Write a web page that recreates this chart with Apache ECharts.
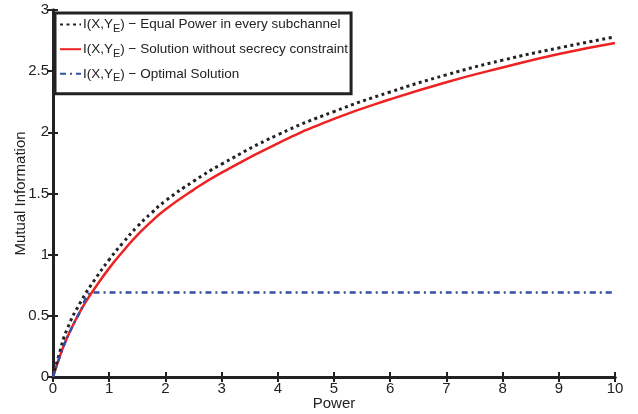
<!DOCTYPE html>
<html>
<head>
<meta charset="utf-8">
<script src="https://cdn.jsdelivr.net/npm/echarts@6/dist/echarts.min.js"></script>
<style>
  html, body { margin: 0; padding: 0; background: #fff; }
  #chart { width: 638px; height: 414px; }
</style>
</head>
<body>
<div id="chart"></div>
<script>
// power values (x)
const powers = [0, 0.1, 0.25, 0.5, 0.75, 1, 1.25, 1.5, 1.75, 2, 2.5, 3, 4, 5, 6, 7, 8, 9, 10];
// I(X,Y_E) equal power in every subchannel
const equalPower = [0, 0.17, 0.39, 0.62, 0.8, 0.96, 1.1, 1.23, 1.34, 1.44, 1.6, 1.74, 1.98, 2.17, 2.33, 2.47, 2.59, 2.69, 2.78];
// I(X,Y_E) solution without secrecy constraint
const noSecrecy = [0, 0.14, 0.32, 0.55, 0.73, 0.89, 1.03, 1.16, 1.27, 1.37, 1.53, 1.67, 1.91, 2.11, 2.27, 2.41, 2.53, 2.64, 2.73];
// I(X,Y_E) optimal solution: follows the red curve, then flat
const optX = [0, 0.1, 0.25, 0.5, 0.69, 10];
const optY = [0, 0.14, 0.32, 0.55, 0.69, 0.69];

const names = [
  'I(X,Y{s|E}) − Equal Power in every subchannel',
  'I(X,Y{s|E}) − Solution without secrecy constraint',
  'I(X,Y{s|E}) − Optimal Solution'
];

const font = '"Liberation Sans", Arial, sans-serif';
const chart = echarts.init(document.getElementById('chart'));

const pairs = (xs, ys) => xs.map((x, i) => [x, ys[i]]);

const boxAxis = {
  min: 0,
  axisLine: { show: true, lineStyle: { color: '#222', width: 3 } },
  axisTick: { show: true, inside: true, length: 5, lineStyle: { color: '#222', width: 2 } },
  splitLine: { show: false }
};

chart.setOption({
  animation: false,
  grid: { left: 53, right: 23, top: 10, bottom: 37, outerBoundsMode: 'none', containLabel: false },
  legend: {
    orient: 'vertical',
    left: 55,
    top: 13,
    backgroundColor: '#fff',
    borderColor: '#222',
    borderWidth: 3,
    borderRadius: 0,
    padding: [4, 3, 10, 4],
    itemGap: 7,
    itemWidth: 21,
    itemHeight: 19,
    itemStyle: { opacity: 0 },
    data: names,
    textStyle: {
      fontFamily: font,
      fontSize: 13.5,
      color: '#222',
      padding: [0, 0, 0, -3],
      rich: { s: { fontFamily: font, fontSize: 11, color: '#222', verticalAlign: 'bottom', padding: [9, 0, 0, 0] } }
    }
  },
  xAxis: [
    Object.assign({}, boxAxis, {
      type: 'value', max: 10, interval: 1, position: 'bottom',
      name: 'Power', nameLocation: 'middle', nameGap: 19, nameMoveOverlap: false,
      nameTextStyle: { fontFamily: font, fontSize: 15, color: '#222' },
      axisLabel: { fontFamily: font, fontSize: 15, color: '#222', margin: 4 }
    }),
    Object.assign({}, boxAxis, {
      type: 'value', max: 10, interval: 1, position: 'top',
      axisLabel: { show: false }
    })
  ],
  yAxis: [
    Object.assign({}, boxAxis, {
      type: 'value', max: 3, interval: 0.5, position: 'left',
      name: 'Mutual Information', nameLocation: 'middle', nameGap: 25, nameMoveOverlap: false,
      nameTextStyle: { fontFamily: font, fontSize: 15, color: '#222' },
      axisLabel: { fontFamily: font, fontSize: 15, color: '#222', margin: 4 }
    }),
    Object.assign({}, boxAxis, {
      type: 'value', max: 3, interval: 0.5, position: 'right',
      axisLabel: { show: false }
    })
  ],
  series: [
    {
      name: names[0], type: 'line', smooth: true, symbol: 'none',
      data: pairs(powers, equalPower), z: 3,
      itemStyle: { color: '#222' },
      lineStyle: { color: '#222', width: 3, type: [3, 3.5] }
    },
    {
      name: names[1], type: 'line', smooth: true, symbol: 'none',
      data: pairs(powers, noSecrecy), z: 2,
      itemStyle: { color: '#ee2222' },
      lineStyle: { color: '#ee2222', width: 2.5 }
    },
    {
      name: names[2], type: 'line', smooth: 0.3, symbol: 'none',
      data: pairs(optX, optY), z: 4,
      itemStyle: { color: '#3350a8' },
      lineStyle: { color: '#3350a8', width: 2.5, type: [6, 4, 2, 4] }
    }
  ]
});
</script>
</body>
</html>
